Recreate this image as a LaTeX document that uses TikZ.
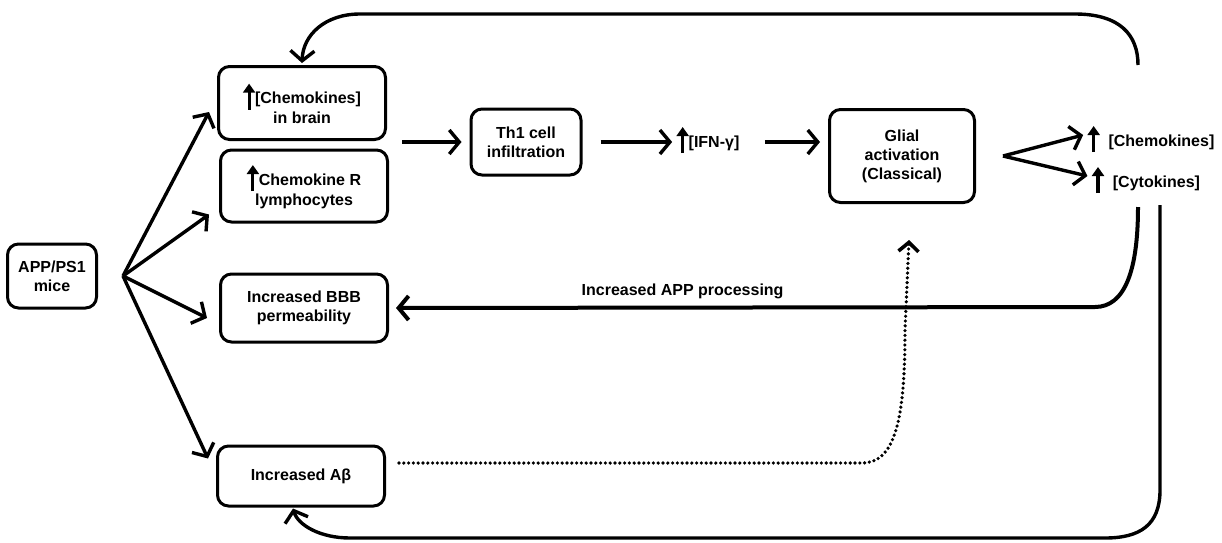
\documentclass[tikz,border=0pt]{standalone}
\usepackage{fontspec}
\setmainfont{Liberation Sans}
\usetikzlibrary{arrows.meta,positioning,calc}

% small thick up arrow used inside labels
\newcommand{\uparr}{\tikz[baseline=0pt]\draw[line width=3.2pt,-{Triangle[length=9pt,width=12pt]}] (0pt,-6pt) -- (0pt,20pt);}

\tikzset{
  box/.style={draw, line width=3pt, rounded corners=11pt, align=center,
    font=\fontsize{16}{19}\selectfont\bfseries},
  lbl/.style={align=center, font=\fontsize{16}{19}\selectfont\bfseries},
  arr/.style={line width=3.4pt, -{Straight Barb[length=10pt,width=24pt]}},
  dotline/.style={line width=3.6pt, line cap=round, dash pattern=on 0pt off 4.8pt,
    -{Straight Barb[length=9pt,width=20pt]}}
}

\begin{document}
\begin{tikzpicture}[x=1pt, y=-1pt]
  \useasboundingbox (0,0) rectangle (1222,542);

  % boxes
  \node[box, minimum width=89, minimum height=64] (mice) at (52,276) {APP/PS1\\mice};
  \node[box, minimum width=167, minimum height=73] (chem) at (302,103) {\uparr[Chemokines]\\in brain};
  \node[box, minimum width=167, minimum height=72] (lymph) at (304,186) {\uparr Chemokine R\\lymphocytes};
  \node[box, minimum width=167, minimum height=68] (bbb) at (304,308) {Increased BBB\\permeability};
  \node[box, minimum width=167, minimum height=60] (abeta) at (301,476) {Increased Aβ};
  \node[box, minimum width=110, minimum height=66] (th1) at (526,142) {Th1 cell\\infiltration};
  \node[lbl] (ifn) at (708,140) {\uparr[IFN-γ]};
  \node[box, minimum width=145, minimum height=93] (glial) at (902,156) {Glial\\activation\\(Classical)};
  \node[lbl] (chemo) at (1151,139) {\uparr\ \ [Chemokines]};
  \node[lbl] (cyto) at (1146,180) {\uparr\ \ [Cytokines]};

  % fan out of the mice
  \coordinate (fan) at (123,276);
  \draw[arr] (fan) -- ([xshift=-8pt,yshift=-9pt]chem.west);
  \draw[arr] (fan) -- ([xshift=-10pt,yshift=9pt]lymph.south west);
  \draw[arr] (fan) -- ([xshift=-12pt,yshift=-10pt]bbb.west);
  \draw[arr] (fan) -- ([xshift=-8pt,yshift=-14pt]abeta.north west);

  % main chain
  \draw[arr] ([xshift=15pt]chem.south east |- th1.west) -- ([xshift=-8pt]th1.west);
  \draw[arr] ([xshift=18pt]th1.east) -- ([xshift=-1pt]ifn.west |- th1.east);
  \draw[arr] ([xshift=22pt]ifn.east |- th1.east) -- ([xshift=-8pt]th1.east -| glial.west);
  \draw[arr] ([xshift=27pt]glial.east) -- ([xshift=-1pt,yshift=4pt]chemo.west);
  \draw[arr] ([xshift=27pt]glial.east) -- ([xshift=-1pt,yshift=4pt]cyto.west);

  % feedback loops
  \coordinate (topfb) at (1138,65);
  \draw[arr] (topfb) .. controls (1138,35) and (1120,14) .. (1075,14)
    -- (360,14) .. controls (325,14) and (303,35) .. ([yshift=2pt]chem.north);
  \coordinate (appfb) at (1138,207);
  \draw[arr, line width=4pt] (appfb) .. controls (1138,270) and (1125,307) .. (1095,307)
    -- ([xshift=7pt]bbb.east)
    node[pos=0.59, above=3pt, lbl] (app) {Increased APP processing};
  \coordinate (lowfb) at (1160,205);
  \draw[arr] (lowfb) -- (1160,490) .. controls (1160,525) and (1140,538) .. (1105,538)
    -- (350,538) .. controls (320,538) and (298,525) .. ([xshift=-8pt,yshift=-1pt]abeta.south);

  % A-beta to glia
  \draw[dotline] ([xshift=13pt]abeta.east |- 0,463) -- (862,463)
    .. controls (895,463) and (905,420) .. (905,330) -- ([xshift=7pt,yshift=-36pt]glial.south);
\end{tikzpicture}
\end{document}
